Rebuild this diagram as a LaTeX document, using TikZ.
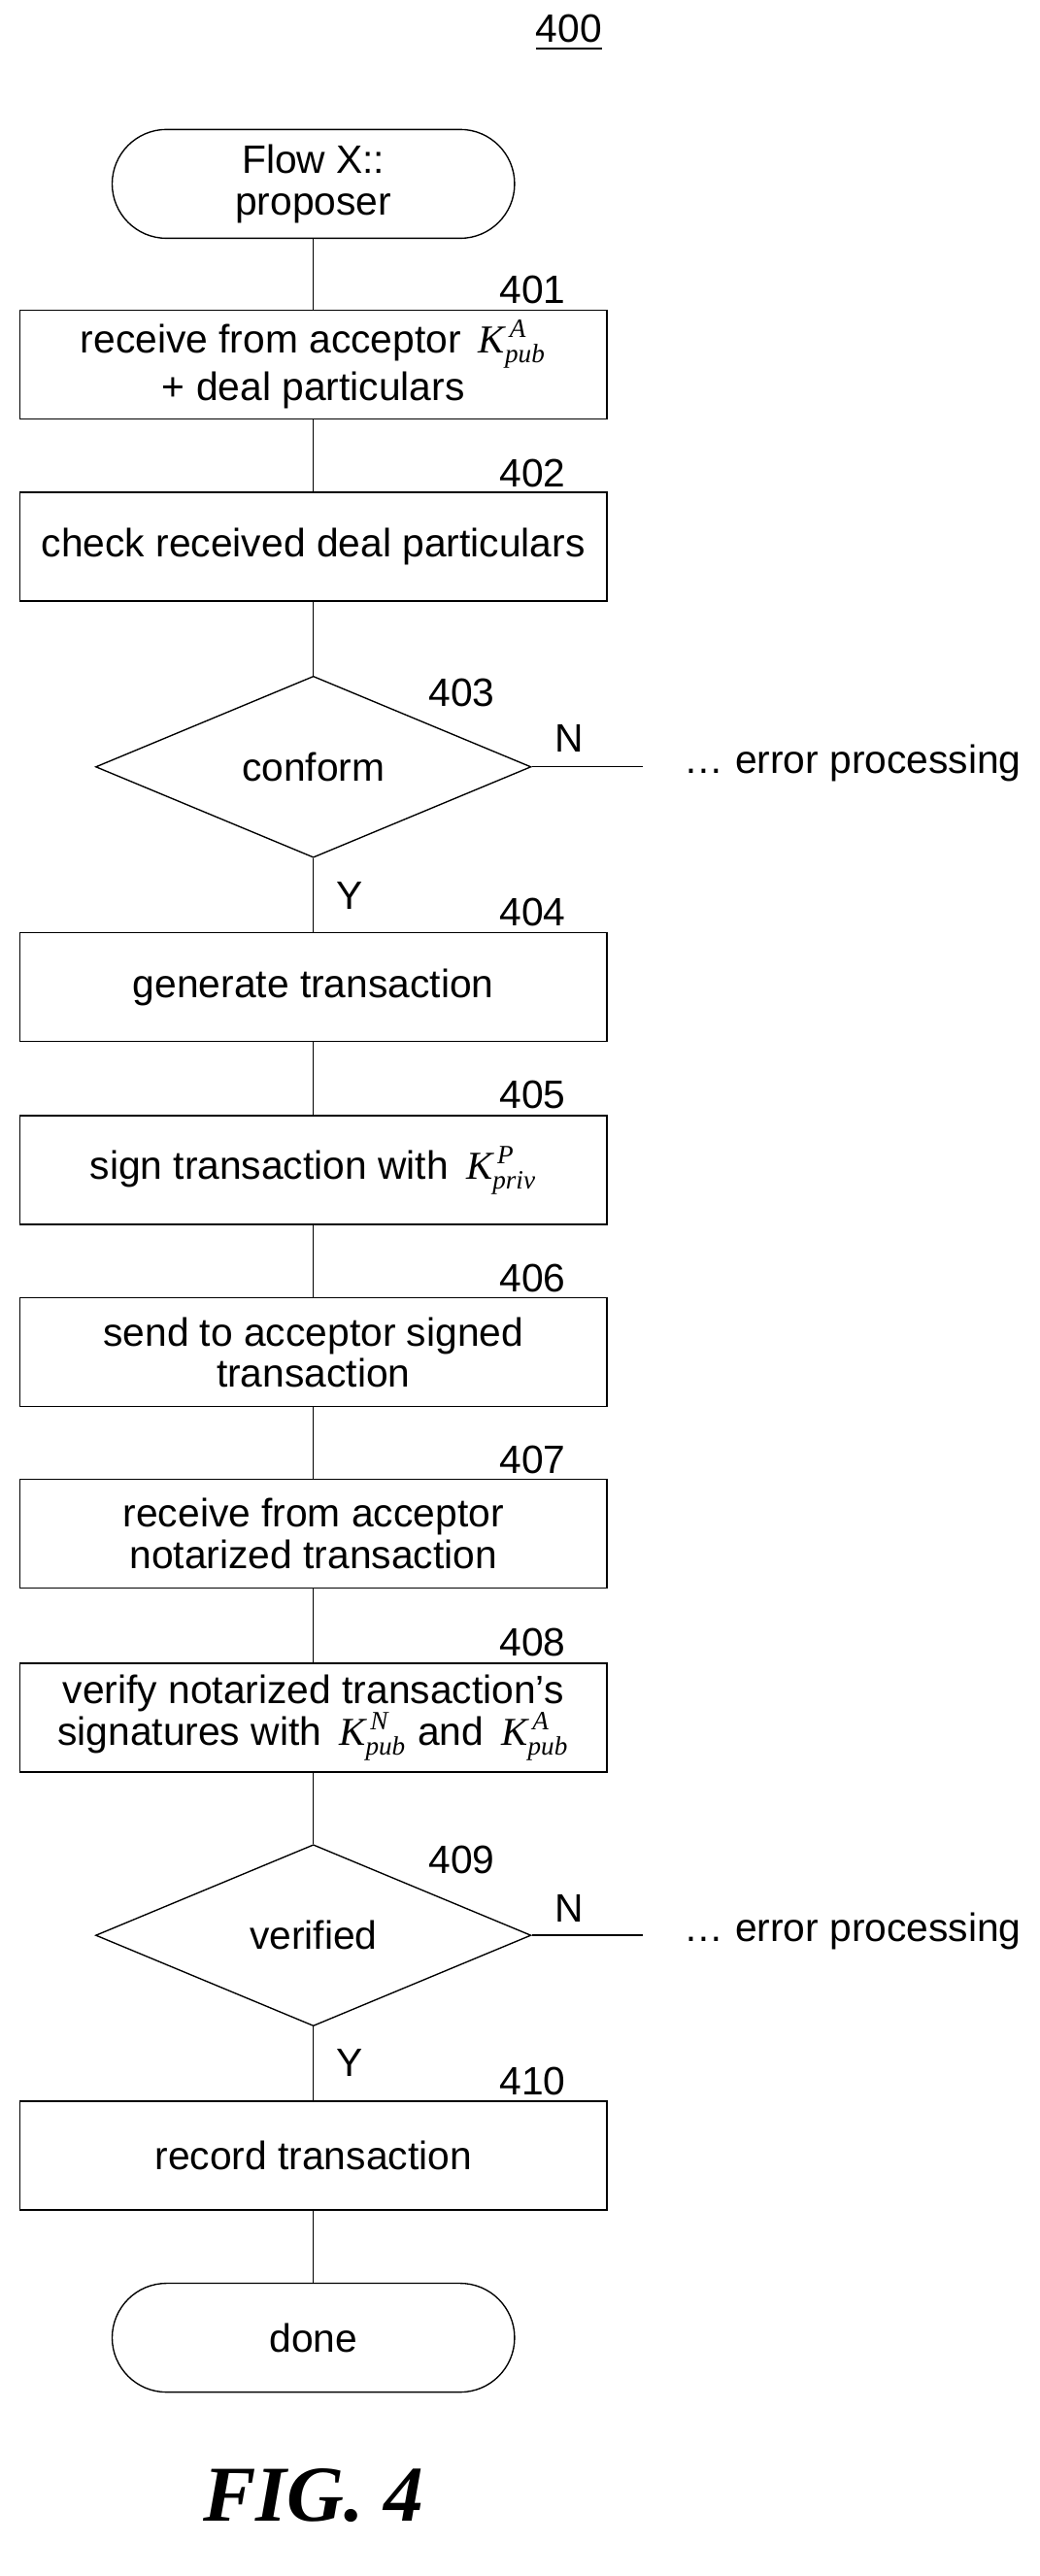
\documentclass[tikz,border=0pt]{standalone}
\usepackage{amsmath}
\usepackage{fontspec}
\setmainfont{Liberation Sans}
\newfontfamily\tms{Liberation Serif}
\usetikzlibrary{shapes.geometric}
\newcommand{\Kkey}[2]{\,$\textit{\tms\large K}^{\,\textit{\tms #1}}_{\textit{\tms #2}}$}
\tikzset{
  proc/.style = {draw, minimum width=178pt, minimum height=33pt, inner sep=1pt, align=center, font=\fontsize{12}{12.5}\selectfont},
  term/.style = {draw, rounded corners=16.5pt, minimum width=122pt, minimum height=33pt, align=center, font=\fontsize{12}{12.5}\selectfont},
  test/.style = {draw, diamond, aspect=2.4, minimum width=132pt, minimum height=55pt, inner sep=0pt, font=\fontsize{12}{12.5}\selectfont},
  num/.style = {font=\fontsize{12}{12.5}\selectfont},
}
\begin{document}
\begin{tikzpicture}[x=0.5pt, y=-0.5pt]
\useasboundingbox (0,0) rectangle (630,1562);

\node[num] (n400) at (345,20) {\underline{400}};

\node[term] (start) at (190,111.5) {Flow X::\\proposer};
\node[proc] (s401) at (190,221) {receive from acceptor \Kkey{A}{pub}\\+ deal particulars};
\node[proc] (s402) at (190,331.5) {check received deal particulars};
\node[test] (s403) at (190,465) {conform};
\node[proc] (s404) at (190,598.5) {generate transaction};
\node[proc] (s405) at (190,709.5) {sign transaction with \Kkey{P}{priv}};
\node[proc] (s406) at (190,820) {send to acceptor signed\\transaction};
\node[proc] (s407) at (190,930) {receive from acceptor\\notarized transaction};
\node[proc] (s408) at (190,1041.5) {verify notarized transaction’s\\signatures with \Kkey{N}{pub} and \Kkey{A}{pub}};
\node[test] (s409) at (190,1173.5) {verified};
\node[proc] (s410) at (190,1307) {record transaction};
\node[term] (done) at (190,1417.5) {done};

% step numbers
\node[num] at (323,176) {401};
\node[num] at (323,287) {402};
\node[num] at (280,420) {403};
\node[num] at (323,553) {404};
\node[num] at (323,664) {405};
\node[num] at (323,775) {406};
\node[num] at (323,885) {407};
\node[num] at (323,996) {408};
\node[num] at (280,1128) {409};
\node[num] at (323,1262) {410};

% error branches
\coordinate (e403) at (390,465);
\coordinate (e409) at (390,1173.5);
\node[num, anchor=west] (err403) at (408,463) {… error processing};
\node[num, anchor=west] (err409) at (408,1171) {… error processing};
\draw (s403.east) -- (e403);
\draw (s409.east) -- (e409);
\node[num] at (345,448) {N};
\node[num] at (345,1157) {N};
\node[num] at (212,543) {Y};
\node[num] at (212,1251) {Y};

\draw (start) -- (s401);
\draw (s401) -- (s402);
\draw (s402) -- (s403);
\draw (s403) -- (s404);
\draw (s404) -- (s405);
\draw (s405) -- (s406);
\draw (s406) -- (s407);
\draw (s407) -- (s408);
\draw (s408) -- (s409);
\draw (s409) -- (s410);
\draw (s410) -- (done);

\node[font=\tms\bfseries\itshape\fontsize{24}{28}\selectfont] (fig) at (190,1513) {FIG. 4};
\end{tikzpicture}
\end{document}
